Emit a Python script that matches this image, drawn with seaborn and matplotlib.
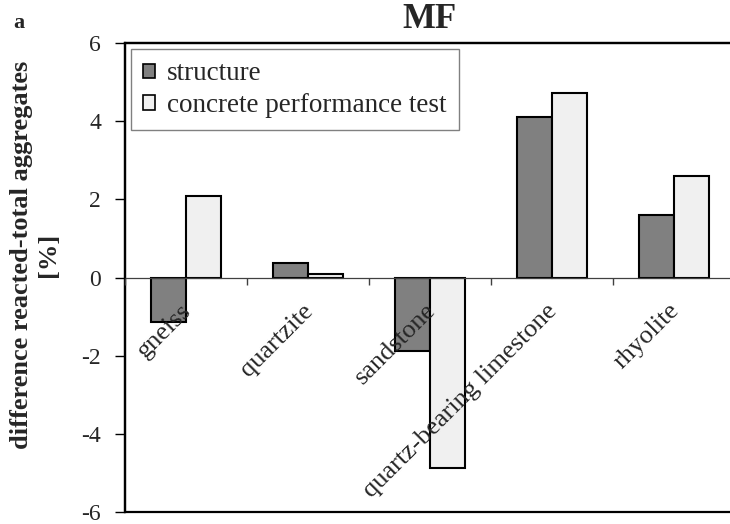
import numpy as np
import pandas as pd
import matplotlib
matplotlib.use("Agg")
import matplotlib.pyplot as plt
import matplotlib.transforms as mtransforms
import seaborn as sns
from matplotlib.patches import Patch

categories = ["gneiss", "quartzite", "sandstone", "quartz-bearing limestone", "rhyolite"]
series_names = ["structure", "concrete performance test"]
structure = [-1.15, 0.37, -1.88, 4.1, 1.6]
performance = [2.1, 0.1, -4.88, 4.72, 2.61]
yticks = [-6, -4, -2, 0, 2, 4, 6]
colors = ["#808080", "#f0f0f0"]

df = pd.DataFrame({
    "category": categories * 2,
    "value": structure + performance,
    "series": [series_names[0]] * len(categories) + [series_names[1]] * len(categories),
})

sns.set_style("white")
plt.rcParams["font.family"] = ["Liberation Serif", "DejaVu Serif"]

fig = plt.figure(figsize=(7.30, 5.24), dpi=100)
ax = fig.add_axes([124.7 / 730, 12.3 / 524, 610 / 730, 468.4 / 524])

sns.barplot(data=df, x="category", y="value", hue="series", order=categories,
            hue_order=series_names, palette=colors, saturation=1, width=0.574,
            edgecolor="black", linewidth=1.5, legend=False, ax=ax)
ax.set_axisbelow(False)

# spines first (set_position resets ticks)
ax.spines["bottom"].set_position(("data", 0))
ax.spines["bottom"].set_color("#404040")
ax.spines["bottom"].set_linewidth(0.9)
for s in ["top", "left", "right"]:
    ax.spines[s].set_color("black")
    ax.spines[s].set_linewidth(1.6)
ax.patch.set_edgecolor("black")
ax.patch.set_linewidth(1.6)

ax.set_xlim(-0.5, len(categories) - 0.5)
ax.set_ylim(yticks[0], yticks[-1])
ax.set_yticks(yticks)
ax.set_yticklabels([str(t) for t in yticks])
ax.tick_params(axis="y", direction="out", length=7, width=1, pad=10, left=True,
               color="black", labelsize=17)

ax.set_xticks(range(len(categories)))
ax.set_xticklabels(categories)
ax.set_xticks(np.arange(-0.5, len(categories), 1), minor=True)
ax.tick_params(axis="x", which="major", length=0, pad=8, bottom=True, labelsize=19,
               labelrotation=45)
ax.tick_params(axis="x", which="minor", direction="out", length=5, width=1, bottom=True, color="#404040")
offset = mtransforms.ScaledTranslation(-4 / 72, -8 / 72, fig.dpi_scale_trans)
for lab in ax.get_xticklabels():
    lab.set_rotation(45)
    lab.set_ha("right")
    lab.set_va("top")
    lab.set_rotation_mode("anchor")
    lab.set_transform(lab.get_transform() + offset)

ax.set_xlabel("")
ax.set_ylabel("difference reacted-total aggregates\n[%]", fontsize=19, fontweight="bold")
ax.yaxis.set_label_coords(-0.106, 0.548)
ax.set_title("MF", fontsize=25, fontweight="bold", pad=11)

handles = [Patch(facecolor=c, edgecolor="black", linewidth=1.2) for c in colors]
leg = ax.legend(handles, series_names, loc="upper left", fontsize=19.5, frameon=True, fancybox=False,
                edgecolor="#808080", framealpha=1, borderaxespad=0.22, borderpad=0.45,
                handlelength=0.45, handleheight=0.45, handletextpad=0.45, labelspacing=0.25)
leg.get_frame().set_linewidth(1.0)

fig.text(0.018, 0.975, "a", fontsize=16, fontweight="bold", va="top", ha="left")

fig.savefig("out.png", dpi=100)
